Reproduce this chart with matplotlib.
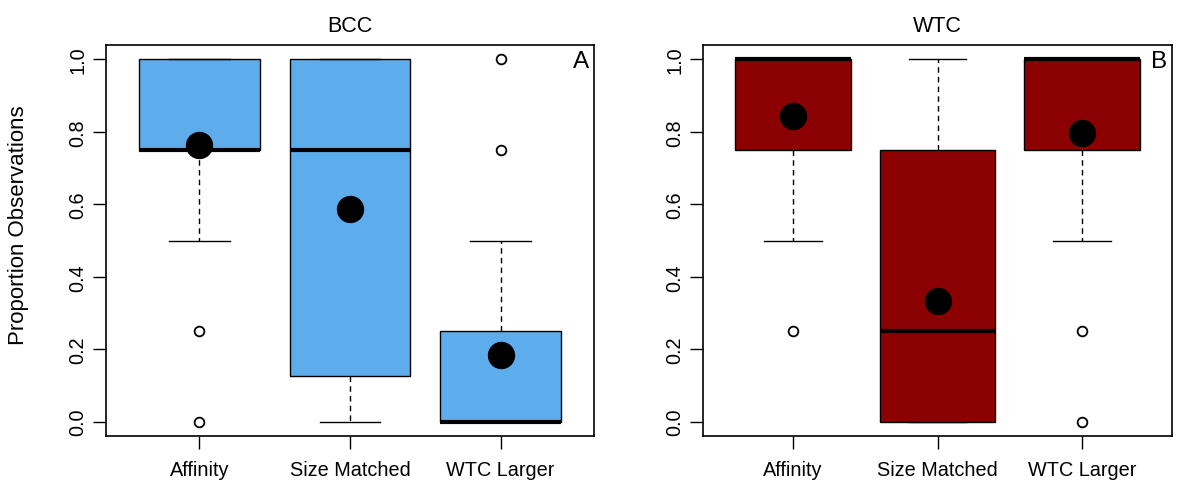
import matplotlib
matplotlib.use("Agg")
import matplotlib.pyplot as plt

plt.rcParams['font.family'] = ['Liberation Sans', 'DejaVu Sans']

# Categories and panels
categories = ['Affinity', 'Size Matched', 'WTC Larger']
panels = ['BCC', 'WTC']
panel_tags = ['A', 'B']
panel_colors = ['#5DADEC', '#8B0000']

# Box statistics (per panel, per category)
bcc_q1 = [0.75, 0.125, 0.0]
bcc_med = [0.75, 0.75, 0.0]
bcc_q3 = [1.0, 1.0, 0.25]
bcc_wlo = [0.5, 0.0, 0.0]
bcc_whi = [1.0, 1.0, 0.5]
bcc_out = [[0.25, 0.0], [], [0.75, 1.0]]
bcc_mean = [0.765, 0.586, 0.185]

wtc_q1 = [0.75, 0.0, 0.75]
wtc_med = [1.0, 0.25, 1.0]
wtc_q3 = [1.0, 0.75, 1.0]
wtc_wlo = [0.5, 0.0, 0.5]
wtc_whi = [1.0, 1.0, 1.0]
wtc_out = [[0.25], [], [0.25, 0.0]]
wtc_mean = [0.845, 0.332, 0.797]

W, H = 1194, 485
fig = plt.figure(figsize=(W / 100, H / 100), dpi=100)

# axes rectangles in pixels: left, right, top, bottom
rects = [(106, 594, 46, 437), (703, 1172, 46, 437)]

data = [
    (bcc_q1, bcc_med, bcc_q3, bcc_wlo, bcc_whi, bcc_out, bcc_mean),
    (wtc_q1, wtc_med, wtc_q3, wtc_wlo, wtc_whi, wtc_out, wtc_mean),
]

for i, (l, r, t, b) in enumerate(rects):
    ax = fig.add_axes([l / W, 1 - b / H, (r - l) / W, (b - t) / H])
    q1, med, q3, wlo, whi, out, mean = data[i]
    stats = []
    for k in range(len(categories)):
        stats.append(dict(q1=q1[k], med=med[k], q3=q3[k], whislo=wlo[k],
                          whishi=whi[k], fliers=out[k], label=categories[k]))
    pos = list(range(1, len(categories) + 1))
    ax.bxp(stats, positions=pos, widths=0.8, patch_artist=True,
           showfliers=True,
           boxprops=dict(facecolor=panel_colors[i], edgecolor='black', linewidth=1.0),
           medianprops=dict(color='black', linewidth=3.0, solid_capstyle='butt'),
           whiskerprops=dict(color='black', linewidth=1.0, linestyle=(0, (4, 3))),
           capprops=dict(color='black', linewidth=1.0),
           capwidths=0.4,
           flierprops=dict(marker='o', markerfacecolor='white', markeredgecolor='black',
                           markersize=7, markeredgewidth=1.3))
    ax.plot(pos, mean, 'o', color='black', markersize=18.7, zorder=5)

    ax.set_xlim(0.38, 3.62)
    ax.set_ylim(-0.04, 1.04)
    ax.set_yticks([0.0, 0.2, 0.4, 0.6, 0.8, 1.0])
    ax.set_yticklabels(['0.0', '0.2', '0.4', '0.6', '0.8', '1.0'],
                       rotation=90, va='center')
    ax.set_xticks(pos)
    ax.set_xticklabels(categories)
    ax.tick_params(axis='both', labelsize=14.3, length=9.5, width=1.0, direction='out')
    ax.tick_params(axis='y', pad=4)
    ax.tick_params(axis='x', pad=8)
    for s in ax.spines.values():
        s.set_linewidth(1.2)
    ax.set_title(panels[i], fontsize=15.5, pad=10)
    ax.text(0.99, 0.988, panel_tags[i], transform=ax.transAxes,
            ha='right', va='top', fontsize=17.5)

# shared y label, placed as in the original figure
fig.text(19 / W, 1 - 225 / H, 'Proportion Observations', rotation=90,
         ha='center', va='center', fontsize=16)

fig.savefig('out.png', dpi=100)
